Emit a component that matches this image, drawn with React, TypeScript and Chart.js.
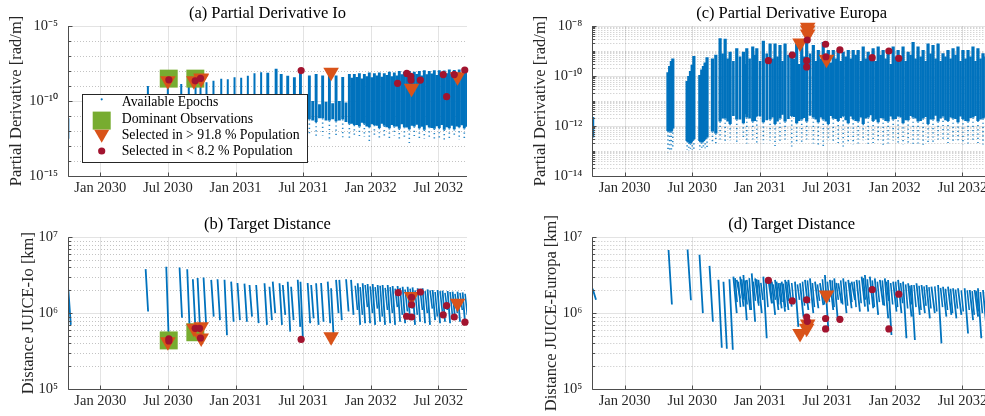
import { useEffect, useRef } from "react";
import { Chart, registerables } from "chart.js";

Chart.register(...registerables);

// ---------- x axis (months since 1 Jan 2030) ----------
const monthTicks = [0, 6, 12, 18, 24, 30];
const monthTickLabels = ["Jan 2030", "Jul 2030", "Jan 2031", "Jul 2031", "Jan 2032", "Jul 2032"];
const X_MIN = -2.87;
const X_MAX = 32.54;

// ---------- y tick values ----------
const ioPdTicks = [1e-15, 1e-10, 1e-5];
const euPdTicks = [1e-14, 1e-12, 1e-10, 1e-8];
const distTicks = [1e5, 1e6, 1e7];

// ---------- (a) Io partial derivative: available epochs ----------
const ioSpikeMonth = [-2.84, 4.22, 5.99, 7.18, 7.85, 8.45, 8.89, 9.42, 10.04, 10.73, 11.31, 11.91, 12.5, 13.09, 13.68, 14.27, 14.86, 15.6, 16.05, 16.63, 17.22, 17.76, 18.55, 19.15, 19.73, 20.33, 20.92, 21.51, 22.1, 22.54, 22.99, 23.43, 23.87, 24.32, 24.76, 25.2, 25.65, 26.09, 26.53, 26.98, 27.42, 27.86, 28.31, 28.75, 29.19, 29.64, 30.08, 30.52, 30.97, 31.41, 31.85, 32.3];
const ioSpikeTop = [7e-12, 1.0e-9, 2.5e-9, 1.35e-9, 1.6e-9, 1.8e-9, 2.0e-9, 1.75e-9, 2.2e-9, 3.0e-9, 2.8e-9, 3.8e-9, 3.5e-9, 4.9e-9, 7.0e-9, 8.1e-9, 7.6e-9, 1.4e-8, 6.3e-9, 4.9e-9, 3.8e-9, 1.0e-8, 5.0e-9, 6.3e-9, 5.0e-9, 7.0e-9, 5.0e-9, 4.0e-9, 6.3e-9, 6.3e-9, 7.0e-9, 6.3e-9, 7.9e-9, 7.0e-9, 7.9e-9, 7.0e-9, 8.9e-9, 7.9e-9, 1.0e-8, 8.9e-9, 1.0e-8, 8.9e-9, 1.0e-8, 1.12e-8, 1.0e-8, 1.12e-8, 1.12e-8, 1.07e-8, 1.26e-8, 1.17e-8, 1.26e-8, 1.26e-8];
const ioSpikeLow = [3e-13, 4e-12, 4e-12, 4e-12, 4e-12, 4e-12, 4e-12, 4e-12, 4e-12, 4e-12, 4e-12, 4e-12, 4e-12, 4e-12, 4e-12, 4e-12, 4e-12, 4e-12, 4e-12, 4e-12, 4e-12, 5e-12, 6e-12, 4e-12, 7e-12, 5e-12, 4.5e-12, 6e-12, 3e-12, 2.5e-12, 2e-12, 3e-12, 1.8e-12, 2.5e-12, 1.6e-12, 2.2e-12, 1.5e-12, 2e-12, 1.4e-12, 1.8e-12, 1.3e-12, 2e-12, 1.5e-12, 1.2e-12, 1.8e-12, 1.4e-12, 1.6e-12, 1.2e-12, 1.5e-12, 1.3e-12, 1.8e-12, 1.5e-12];
const ioSpikeTail = [3e-13, 5e-13, 5e-13, 5e-13, 5e-13, 5e-13, 5e-13, 5e-13, 5e-13, 5e-13, 5e-13, 5e-13, 5e-13, 5e-13, 5e-13, 5e-13, 5e-13, 5e-13, 5e-13, 5e-13, 5e-13, 4e-13, 6e-13, 3e-13, 5e-13, 2e-13, 4e-13, 3e-13, 2.5e-13, 5e-13, 3e-13, 4e-13, 2e-13, 3.5e-13, 2.5e-13, 4e-13, 3e-13, 5e-13, 2e-13, 3e-13, 1.6e-13, 4e-13, 2.5e-13, 3e-13, 4e-13, 2e-13, 3.5e-13, 2.5e-13, 3e-13, 4e-13, 2.5e-13, 3e-13];
// (a) denser core between the main spikes
const ioDenseMonth = [18.25, 18.85, 19.45, 20.03, 20.62, 21.21, 21.8, 22.32, 22.77, 23.21, 23.65, 24.1, 24.54, 24.98, 25.42, 25.87, 26.31, 26.75, 27.2, 27.64, 28.08, 28.53, 28.97, 29.41, 29.86, 30.3, 30.74, 31.19, 31.63, 32.07, 32.5];
const ioDenseTop = [8e-11, 1e-10, 6e-11, 9e-11, 7e-11, 1e-10, 8e-11, 3.5e-9, 4.0e-9, 3.2e-9, 4.5e-9, 3.8e-9, 5.0e-9, 4.2e-9, 5.5e-9, 4.5e-9, 5.0e-9, 6.0e-9, 4.8e-9, 5.5e-9, 6.3e-9, 5.0e-9, 6.0e-9, 6.8e-9, 5.5e-9, 6.5e-9, 7.0e-9, 6.0e-9, 7.2e-9, 6.5e-9, 7.5e-9];
const ioDenseLow = [6e-12, 5e-12, 7e-12, 5e-12, 6e-12, 5e-12, 4e-12, 3e-12, 2.5e-12, 3.5e-12, 2e-12, 2.8e-12, 2.2e-12, 3e-12, 1.8e-12, 2.5e-12, 2e-12, 2.8e-12, 1.7e-12, 2.2e-12, 2.6e-12, 1.9e-12, 2.4e-12, 1.6e-12, 2.1e-12, 2.5e-12, 1.8e-12, 2.2e-12, 2e-12, 2.4e-12, 1.9e-12];

// (a) selections
const ioDomMonth = [6.07, 8.43];
const ioDomPd = [3.1e-9, 3.1e-9];
const ioHighPopMonth = [5.99, 8.3, 8.95, 8.95, 20.48, 27.62, 31.7];
const ioHighPopPd = [2.2e-9, 2.2e-9, 3.4e-9, 3.0e-9, 8.1e-9, 7.2e-10, 4.2e-9];
const ioLowPopMonth = [6.08, 8.42, 8.89, 17.82, 26.38, 27.2, 27.55, 27.57, 28.4, 30.43, 30.73, 31.41, 32.34];
const ioLowPopPd = [2.6e-9, 2.2e-9, 3.2e-9, 1.07e-8, 1.5e-9, 6.9e-9, 4.4e-9, 2.5e-9, 2.5e-9, 5.8e-9, 1.95e-10, 5.8e-9, 1.17e-8];

// ---------- (b) JUICE-Io distance [km] ----------
const ioDistMonth = [-2.84, 4.02, 5.85, 7.03, 7.71, 8.21, 8.63, 9.16, 9.84, 10.4, 11.02, 11.61, 12.17, 12.79, 13.24, 13.83, 14.57, 15.01, 15.3, 15.9, 16.19, 16.63, 16.93, 17.52, 17.76, 18.4, 18.71, 19.15, 19.59, 20.18, 20.48, 20.92, 21.21, 21.81, 22.25, 22.84, 23.28, 23.72, 24.17, 24.61, 25.05, 25.5, 25.94, 26.38, 26.83, 27.27, 27.71, 28.16, 28.6, 29.04, 29.49, 29.93, 30.37, 30.82, 31.26, 31.7, 32.15];
const ioDistHigh = [2.05e6, 3.8e6, 4.1e6, 4.0e6, 3.8e6, 2.8e6, 2.9e6, 2.95e6, 2.75e6, 2.8e6, 2.75e6, 2.6e6, 2.5e6, 2.45e6, 2.35e6, 2.35e6, 2.48e6, 2.23e6, 2.6e6, 2.48e6, 2.35e6, 2.6e6, 2.23e6, 2.75e6, 2.6e6, 2.5e6, 2.35e6, 2.48e6, 2.5e6, 2.6e6, 2.13e6, 2.75e6, 2.75e6, 2.8e6, 2.75e6, 2.48e6, 2.48e6, 2.42e6, 2.42e6, 2.35e6, 2.35e6, 2.35e6, 2.28e6, 2.28e6, 2.23e6, 2.23e6, 2.19e6, 2.13e6, 2.13e6, 2.06e6, 2.02e6, 2.02e6, 1.98e6, 1.96e6, 1.92e6, 1.92e6, 1.88e6];
const ioDistLow = [7.0e5, 1.05e6, 4.5e5, 8.7e5, 6.0e5, 6.6e5, 6.0e5, 7.4e5, 9.0e5, 8.1e5, 5.1e5, 7.7e5, 8.1e5, 7.7e5, 9.0e5, 7.4e5, 7.0e5, 8.1e5, 1.0e6, 7.0e5, 9.5e5, 5.7e5, 8.1e5, 6.6e5, 4.4e5, 7.35e5, 8.55e5, 7.0e5, 7.7e5, 7.35e5, 4.9e5, 1.0e6, 8.1e5, 1.05e6, 9.5e5, 7.0e5, 7.35e5, 7.35e5, 7.0e5, 7.7e5, 7.0e5, 7.35e5, 7.0e5, 7.7e5, 7.35e5, 8.1e5, 7.0e5, 7.7e5, 7.35e5, 7.0e5, 8.1e5, 7.35e5, 7.7e5, 7.35e5, 8.55e5, 7.7e5, 7.35e5];
// (b) shorter passes in the dense 2032 band
const ioDistDenseMonth = [22.62, 23.06, 23.5, 23.95, 24.39, 24.83, 25.28, 25.72, 26.16, 26.6, 27.05, 27.49, 27.93, 28.38, 28.82, 29.26, 29.71, 30.15, 30.59, 31.04, 31.48, 31.92, 32.37];
const ioDistDenseHigh = [2.3e6, 2.2e6, 2.35e6, 2.25e6, 2.2e6, 2.3e6, 2.15e6, 2.2e6, 2.1e6, 2.15e6, 2.05e6, 2.1e6, 2.0e6, 2.05e6, 1.95e6, 2.0e6, 1.9e6, 1.95e6, 1.85e6, 1.9e6, 1.8e6, 1.85e6, 1.8e6];
const ioDistDenseLow = [1.1e6, 9.5e5, 1.2e6, 1.0e6, 1.15e6, 9.0e5, 1.1e6, 1.0e6, 1.2e6, 9.5e5, 1.05e6, 1.15e6, 9.5e5, 1.1e6, 1.0e6, 1.15e6, 9.0e5, 1.05e6, 1.1e6, 9.5e5, 1.0e6, 1.1e6, 9.5e5];

const ioDomDist = [4.37e5, 5.6e5];
const ioHighPopDist = [4.2e5, 6.3e5, 6.6e5, 4.7e5, 4.9e5, 1.66e6, 1.35e6];
const ioLowPopDistMonth = [6.08, 6.08, 8.42, 8.8, 8.89, 17.82, 26.44, 27.18, 27.62, 27.62, 27.62, 28.4, 30.43, 30.73, 31.41, 32.36];
const ioLowPopDist = [4.6e5, 4.3e5, 6.3e5, 6.3e5, 4.7e5, 4.5e5, 1.86e6, 9.1e5, 8.9e5, 1.62e6, 1.29e6, 1.9e6, 9.5e5, 1.26e6, 8.9e5, 7.6e5];

// ---------- (c) Europa partial derivative ----------
const euSpikeMonth = [-2.84, 3.85, 4.0, 4.15, 4.28, 5.55, 5.7, 5.85, 6.0, 6.15, 6.68, 6.85, 7.0, 7.15, 7.32, 7.8, 8.1, 8.48, 8.93, 9.37, 9.96, 10.55, 10.85, 11.38, 11.74, 12.32, 12.92, 13.36, 13.8, 14.25, 14.84, 15.28, 15.73, 16.17, 16.76, 17.2, 17.64, 18.09, 18.53, 18.97, 19.41, 19.86, 20.3, 20.74, 21.19, 21.63, 22.07, 22.52, 22.96, 23.4, 23.85, 24.29, 24.73, 25.18, 25.62, 26.06, 26.51, 26.95, 27.39, 27.84, 28.28, 28.72, 29.17, 29.61, 30.05, 30.5, 30.94, 31.38, 31.83, 32.3];
const euSpikeTop = [2.3e-12, 1.4e-10, 2.5e-10, 4.0e-10, 5.0e-10, 6.3e-11, 1.0e-10, 1.6e-10, 2.8e-10, 6.3e-10, 1.1e-10, 1.8e-10, 2.5e-10, 3.5e-10, 5.6e-10, 5.0e-10, 7.0e-10, 3.2e-9, 3.1e-9, 9.3e-10, 1.3e-9, 9.3e-10, 1.3e-9, 1.5e-9, 1.3e-9, 2.6e-9, 2.0e-9, 2.0e-9, 1.75e-9, 2.0e-9, 9.3e-10, 2.0e-9, 1.75e-9, 2.8e-9, 1.75e-9, 1.1e-9, 2.3e-9, 1.1e-9, 1.1e-9, 1.1e-9, 9.3e-10, 1.1e-9, 1.1e-9, 1.1e-9, 1.5e-9, 9.3e-10, 1.3e-9, 1.5e-9, 1.1e-9, 1.1e-9, 1.5e-9, 1.1e-9, 1.5e-9, 9.3e-10, 2.3e-9, 1.5e-9, 1.1e-9, 2.0e-9, 1.75e-9, 2.0e-9, 8.1e-10, 1.1e-9, 1.3e-9, 1.5e-9, 1.1e-9, 1.1e-9, 1.5e-9, 1.3e-9, 8.1e-10, 1.25e-9];
const euSpikeLow = [3.5e-13, 6.3e-13, 6e-13, 6e-13, 8e-13, 2.5e-13, 2.2e-13, 2e-13, 2.5e-13, 3e-13, 2.5e-13, 2.2e-13, 2.5e-13, 3e-13, 3.5e-13, 6e-13, 5e-13, 1.5e-12, 2e-12, 1.2e-12, 1.8e-12, 1.3e-12, 2.2e-12, 1.5e-12, 2.5e-12, 1.4e-12, 1.8e-12, 1.2e-12, 2e-12, 1.5e-12, 2.5e-12, 1.3e-12, 1.8e-12, 1.5e-12, 2.2e-12, 1.4e-12, 1.8e-12, 1.2e-12, 2e-12, 1.6e-12, 2.5e-12, 1.3e-12, 1.9e-12, 1.5e-12, 1.2e-12, 2.2e-12, 1.6e-12, 1.4e-12, 2e-12, 1.5e-12, 1.8e-12, 2.5e-12, 1.3e-12, 1.7e-12, 2.2e-12, 1.5e-12, 2e-12, 1.2e-12, 1.8e-12, 1.5e-12, 2.4e-12, 1.6e-12, 2e-12, 1.4e-12, 1.9e-12, 1.5e-12, 2.2e-12, 1.6e-12, 2e-12, 1.7e-12];
const euSpikeTail = [3.5e-13, 9e-14, 1e-13, 1e-13, 1.2e-13, 1.1e-13, 1e-13, 1e-13, 1.1e-13, 1.2e-13, 1.1e-13, 1.1e-13, 1.2e-13, 1.3e-13, 1.4e-13, 2e-13, 2e-13, 2.5e-13, 2e-13, 2.5e-13, 2e-13, 3e-13, 2e-13, 2.5e-13, 1.8e-13, 2e-13, 2.5e-13, 1.6e-13, 2e-13, 2.5e-13, 1.5e-13, 2e-13, 1.8e-13, 2.2e-13, 2e-13, 1.6e-13, 1.5e-13, 2.5e-13, 2e-13, 1.8e-13, 1.5e-13, 2.2e-13, 1.8e-13, 2e-13, 2.5e-13, 1.5e-13, 2e-13, 2.2e-13, 1.7e-13, 2e-13, 2.5e-13, 2e-13, 1.8e-13, 2.2e-13, 1.6e-13, 2e-13, 1.5e-13, 2e-13, 1.8e-13, 2.2e-13, 2.5e-13, 1.7e-13, 2e-13, 2.2e-13, 1.8e-13, 2e-13, 2.5e-13, 2e-13, 1.8e-13, 2.2e-13];
// (c) denser core between the main spikes
const euDenseMonth = [8.7, 9.15, 9.66, 10.25, 10.7, 11.1, 11.56, 12.03, 12.62, 13.14, 13.58, 14.02, 14.55, 15.06, 15.5, 15.95, 16.47, 16.98, 17.42, 17.87, 18.31, 18.75, 19.19, 19.64, 20.08, 20.52, 20.97, 21.41, 21.85, 22.3, 22.74, 23.18, 23.63, 24.07, 24.51, 24.96, 25.4, 25.84, 26.29, 26.73, 27.17, 27.62, 28.06, 28.5, 28.95, 29.39, 29.83, 30.28, 30.72, 31.16, 31.61, 32.05, 32.5];
const euDenseTop = [8e-10, 5e-10, 4e-10, 6e-10, 3e-10, 5e-10, 7e-10, 4e-10, 8e-10, 5e-10, 6e-10, 4e-10, 7e-10, 5e-10, 3e-10, 6e-10, 8e-10, 4e-10, 5e-10, 6e-10, 3.5e-10, 5e-10, 4e-10, 6e-10, 5e-10, 7e-10, 4e-10, 5e-10, 6e-10, 4e-10, 7e-10, 5e-10, 3e-10, 6e-10, 5e-10, 4e-10, 7e-10, 5e-10, 6e-10, 4e-10, 8e-10, 5e-10, 4e-10, 6e-10, 5e-10, 7e-10, 4e-10, 5e-10, 6e-10, 4e-10, 5e-10, 6e-10, 5e-10];
const euDenseLow = [2e-12, 1.5e-12, 2.5e-12, 1.8e-12, 3e-12, 2e-12, 1.6e-12, 2.4e-12, 1.7e-12, 2.2e-12, 1.5e-12, 2.8e-12, 1.9e-12, 2.3e-12, 1.6e-12, 2.1e-12, 2.6e-12, 1.8e-12, 2.2e-12, 1.5e-12, 2.5e-12, 1.9e-12, 2.1e-12, 1.7e-12, 2.4e-12, 1.6e-12, 2.2e-12, 2e-12, 2.7e-12, 1.8e-12, 2.1e-12, 1.6e-12, 2.4e-12, 1.9e-12, 2.2e-12, 1.7e-12, 2.5e-12, 2e-12, 1.6e-12, 2.3e-12, 1.8e-12, 2.6e-12, 2e-12, 1.7e-12, 2.2e-12, 1.9e-12, 2.4e-12, 1.6e-12, 2.1e-12, 2.5e-12, 1.8e-12, 2.2e-12, 2e-12];

const euHighPopMonth = [15.58, 16.26, 16.26, 16.26, 17.93];
const euHighPopPd = [2.1e-9, 9.0e-9, 6.9e-9, 4.8e-9, 4.7e-10];
const euLowPopMonth = [12.77, 14.89, 16.22, 16.17, 16.17, 17.85, 17.88, 19.12, 21.99, 23.47, 24.35];
const euLowPopPd = [4.1e-10, 6.9e-10, 2.75e-9, 4.1e-10, 2.3e-10, 1.86e-9, 5.9e-10, 1.1e-9, 5.4e-10, 1.0e-9, 5.1e-10];

// ---------- (d) JUICE-Europa distance [km] ----------
const euDistMonth = [-2.84, 3.9, 5.59, 6.65, 7.54, 8.33, 8.78, 9.31, 9.66, 9.96, 10.26, 10.55, 10.85, 11.29, 11.59, 11.88, 12.32, 12.77, 13.07, 13.36, 13.65, 13.95, 14.25, 14.54, 15.13, 15.58, 16.02, 16.46, 16.91, 17.35, 17.79, 18.23, 18.62, 18.97, 19.41, 19.86, 20.16, 20.6, 21.05, 21.34, 21.78, 22.22, 22.67, 23.11, 23.4, 23.85, 24.29, 24.73, 25.18, 25.48, 25.92, 26.37, 26.81, 27.25, 27.84, 28.28, 28.72, 29.17, 29.61, 30.2, 30.65, 31.09, 31.38, 31.83, 32.3];
const euDistHigh = [2.1e6, 6.8e6, 6.9e6, 5.9e6, 4.2e6, 2.75e6, 2.6e6, 2.8e6, 3.03e6, 2.74e6, 3.03e6, 3.18e6, 2.74e6, 3.35e6, 2.88e6, 2.74e6, 3.03e6, 2.74e6, 2.6e6, 2.74e6, 2.48e6, 2.6e6, 2.74e6, 2.74e6, 2.6e6, 2.48e6, 2.74e6, 2.88e6, 2.6e6, 2.48e6, 3.18e6, 2.74e6, 2.88e6, 2.48e6, 2.88e6, 2.74e6, 2.6e6, 2.74e6, 3.03e6, 3.18e6, 3.03e6, 2.88e6, 2.74e6, 2.88e6, 2.74e6, 2.6e6, 2.74e6, 2.6e6, 2.48e6, 2.35e6, 2.48e6, 2.35e6, 2.35e6, 2.23e6, 2.35e6, 2.23e6, 2.23e6, 2.13e6, 2.13e6, 2.13e6, 2.02e6, 2.02e6, 2.13e6, 2.02e6, 2.0e6];
const euDistLow = [1.5e6, 1.3e6, 1.48e6, 1.0e6, 7.7e5, 3.5e5, 3.4e5, 3.3e5, 1.0e6, 1.57e6, 1.22e6, 8.1e5, 1.1e6, 7.7e5, 1.35e6, 1.0e6, 4.66e5, 1.35e6, 9.5e5, 1.1e6, 1.16e6, 1.05e6, 1.1e6, 1.22e6, 6.6e5, 9.0e5, 1.1e6, 1.0e6, 1.16e6, 1.28e6, 6.0e5, 1.1e6, 8.55e5, 1.35e6, 1.0e6, 1.16e6, 1.49e6, 1.05e6, 1.22e6, 1.05e6, 1.16e6, 9.5e5, 1.28e6, 8.55e5, 5.15e5, 1.05e6, 1.0e6, 4.66e5, 9.0e5, 4.43e5, 9.5e5, 1.0e6, 8.55e5, 1.0e6, 4.0e5, 9.0e5, 9.5e5, 8.55e5, 9.5e5, 5.4e5, 8.1e5, 9.0e5, 4.66e5, 6.6e5, 8.0e5];
// (d) shorter passes filling the dense band
const euDistDenseMonth = [9.81, 10.11, 10.4, 10.7, 11.07, 11.44, 11.73, 12.1, 12.55, 12.92, 13.21, 13.5, 13.8, 14.1, 14.4, 14.84, 15.35, 15.8, 16.24, 16.68, 17.13, 17.57, 18.01, 18.43, 18.8, 19.19, 19.63, 20.01, 20.38, 20.83, 21.2, 21.56, 22.0, 22.45, 22.89, 23.26, 23.63, 24.07, 24.51, 24.96, 25.33, 25.7, 26.15, 26.59, 27.03, 27.55, 28.06, 28.5, 28.95, 29.39, 29.9, 30.43, 30.87, 31.24, 31.6, 32.06, 32.45];
const euDistDenseHigh = [2.9e6, 2.6e6, 2.8e6, 2.7e6, 2.9e6, 2.6e6, 2.8e6, 2.5e6, 2.7e6, 2.55e6, 2.4e6, 2.6e6, 2.5e6, 2.45e6, 2.6e6, 2.5e6, 2.4e6, 2.6e6, 2.7e6, 2.5e6, 2.4e6, 2.8e6, 2.6e6, 2.7e6, 2.5e6, 2.7e6, 2.6e6, 2.5e6, 2.6e6, 2.7e6, 2.9e6, 2.8e6, 2.7e6, 2.6e6, 2.7e6, 2.6e6, 2.5e6, 2.6e6, 2.5e6, 2.4e6, 2.3e6, 2.35e6, 2.3e6, 2.25e6, 2.2e6, 2.25e6, 2.15e6, 2.1e6, 2.1e6, 2.05e6, 2.0e6, 2.0e6, 1.95e6, 1.95e6, 1.9e6, 1.9e6, 1.9e6];
const euDistDenseLow = [1.4e6, 1.2e6, 1.5e6, 1.3e6, 1.1e6, 1.45e6, 1.25e6, 1.5e6, 1.2e6, 1.35e6, 1.5e6, 1.3e6, 1.4e6, 1.2e6, 1.45e6, 1.3e6, 1.5e6, 1.25e6, 1.35e6, 1.2e6, 1.45e6, 1.3e6, 1.4e6, 1.2e6, 1.5e6, 1.3e6, 1.25e6, 1.4e6, 1.2e6, 1.35e6, 1.5e6, 1.3e6, 1.2e6, 1.4e6, 1.25e6, 1.45e6, 1.3e6, 1.2e6, 1.35e6, 1.15e6, 1.3e6, 1.2e6, 1.1e6, 1.25e6, 1.15e6, 1.05e6, 1.2e6, 1.1e6, 1.0e6, 1.15e6, 1.05e6, 1.1e6, 9.5e5, 1.05e6, 1.0e6, 9.5e5, 1.0e6];

const euHighPopDistMonth = [15.58, 16.17, 16.26, 17.93];
const euHighPopDist = [5.4e5, 6.3e5, 7.2e5, 1.74e6];
const euLowPopDistMonth = [12.77, 14.89, 16.17, 16.17, 16.22, 17.85, 17.85, 19.12, 21.99, 23.47, 24.35];
const euLowPopDist = [2.7e6, 1.45e6, 1.5e6, 8.9e5, 7.8e5, 8.5e5, 6.2e5, 8.3e5, 2.04e6, 6.2e5, 1.78e6];

// ---------- styling ----------
const SERIF = "'Liberation Serif', 'Times New Roman', Times, serif";
const BLUE = "#0072BD";
const ORANGE = "#D95319";
const RED = "#A2142F";
const GREEN = "#77AC30";
const TEXT = "#262626";

const SUP: Record<string, string> = { "-": "\u207B", "0": "\u2070", "1": "\u00B9", "2": "\u00B2", "3": "\u00B3", "4": "\u2074", "5": "\u2075", "6": "\u2076", "7": "\u2077", "8": "\u2078", "9": "\u2079" };
function powLabel(v: number) {
  const e = Math.round(Math.log10(v));
  return "10" + String(e).split("").map((c) => SUP[c] || c).join("");
}

function segs(t: number[], a: number[], b: number[], slant: number) {
  const out: { x: number; y: number | null }[] = [];
  const n = Math.min(t.length, a.length, b.length);
  for (let i = 0; i < n; i++) {
    out.push({ x: t[i], y: a[i] }, { x: t[i] + slant, y: b[i] }, { x: t[i] + slant, y: null });
  }
  return out;
}
function pts(t: number[], v: number[]) {
  const n = Math.min(t.length, v.length);
  const out: { x: number; y: number }[] = [];
  for (let i = 0; i < n; i++) out.push({ x: t[i], y: v[i] });
  return out;
}
function minorValues(min: number, max: number, majors: number[], all: boolean) {
  const out: number[] = [];
  const e0 = Math.floor(Math.log10(min));
  const e1 = Math.ceil(Math.log10(max));
  for (let e = e0; e <= e1; e++) {
    const ks = all ? [1, 2, 3, 4, 5, 6, 7, 8, 9] : [1];
    for (const k of ks) {
      const v = k * Math.pow(10, e);
      if (v < min * 0.999 || v > max * 1.001) continue;
      if (majors.some((m) => Math.abs(m - v) / m < 1e-6)) continue;
      out.push(v);
    }
  }
  return out;
}

function drawLegend(ctx: CanvasRenderingContext2D, a: { left: number; top: number }) {
  const x0 = a.left + 14.3;
  const y0 = a.top + 68.3;
  const w = 225;
  const h = 68;
  ctx.save();
  ctx.fillStyle = "#ffffff";
  ctx.fillRect(x0, y0, w, h);
  ctx.strokeStyle = TEXT;
  ctx.lineWidth = 1;
  ctx.strokeRect(Math.round(x0) + 0.5, Math.round(y0) + 0.5, w, h);
  const mx = x0 + 19.4;
  const tx = x0 + 39.4;
  ctx.fillStyle = BLUE;
  ctx.beginPath();
  ctx.arc(mx, y0 + 5, 1.1, 0, Math.PI * 2);
  ctx.fill();
  ctx.fillStyle = GREEN;
  ctx.fillRect(mx - 9, y0 + 17.3, 18, 18);
  ctx.fillStyle = ORANGE;
  const ty = y0 + 42;
  ctx.beginPath();
  ctx.moveTo(mx - 7.5, ty - 6.5);
  ctx.lineTo(mx + 7.5, ty - 6.5);
  ctx.lineTo(mx, ty + 6.5);
  ctx.closePath();
  ctx.fill();
  ctx.fillStyle = RED;
  ctx.beginPath();
  ctx.arc(mx, y0 + 56.7, 3.6, 0, Math.PI * 2);
  ctx.fill();
  ctx.fillStyle = "#000";
  ctx.font = "13.8px " + SERIF;
  ctx.textBaseline = "middle";
  ctx.textAlign = "left";
  ctx.fillText("Available Epochs", tx, y0 + 8.4);
  ctx.fillText("Dominant Observations", tx, y0 + 24.7);
  ctx.fillText("Selected in > 91.8 % Population", tx, y0 + 41.4);
  ctx.fillText("Selected in < 8.2 % Population", tx, y0 + 56.7);
  ctx.restore();
}

const axesPlugin = {
  id: "matlabAxes",
  beforeDatasetsDraw(chart: any, _args: any, opts: any) {
    const { ctx, chartArea: a } = chart;
    const x = chart.scales.x;
    const y = chart.scales.y;
    ctx.save();
    ctx.lineWidth = 1;
    ctx.strokeStyle = "rgba(38,38,38,0.28)";
    ctx.setLineDash([1, 2]);
    for (const v of opts.minor) {
      const py = Math.round(y.getPixelForValue(v)) + 0.5;
      ctx.beginPath();
      ctx.moveTo(a.left, py);
      ctx.lineTo(a.right, py);
      ctx.stroke();
    }
    ctx.setLineDash([]);
    ctx.strokeStyle = "rgba(38,38,38,0.13)";
    for (const v of opts.major) {
      const py = Math.round(y.getPixelForValue(v)) + 0.5;
      ctx.beginPath();
      ctx.moveTo(a.left, py);
      ctx.lineTo(a.right, py);
      ctx.stroke();
    }
    for (const v of monthTicks) {
      const px = Math.round(x.getPixelForValue(v)) + 0.5;
      ctx.beginPath();
      ctx.moveTo(px, a.top);
      ctx.lineTo(px, a.bottom);
      ctx.stroke();
    }
    ctx.restore();
  },
  afterDatasetsDraw(chart: any, _args: any, opts: any) {
    const { ctx, chartArea: a } = chart;
    const x = chart.scales.x;
    const y = chart.scales.y;
    ctx.save();
    ctx.strokeStyle = "#4d4d4d";
    ctx.lineWidth = 1;
    const lx = Math.round(a.left) + 0.5;
    const by = Math.round(a.bottom) + 0.5;
    ctx.beginPath();
    ctx.moveTo(lx, a.top);
    ctx.lineTo(lx, by);
    ctx.lineTo(a.right, by);
    ctx.stroke();
    for (const v of monthTicks) {
      const px = Math.round(x.getPixelForValue(v)) + 0.5;
      ctx.beginPath();
      ctx.moveTo(px, by);
      ctx.lineTo(px, by - 4);
      ctx.stroke();
    }
    for (const v of opts.major) {
      const py = Math.round(y.getPixelForValue(v)) + 0.5;
      ctx.beginPath();
      ctx.moveTo(lx, py);
      ctx.lineTo(lx + 4, py);
      ctx.stroke();
    }
    for (const v of opts.minor) {
      const py = Math.round(y.getPixelForValue(v)) + 0.5;
      ctx.beginPath();
      ctx.moveTo(lx, py);
      ctx.lineTo(lx + 2.5, py);
      ctx.stroke();
    }
    ctx.restore();
    if (opts.legend) drawLegend(ctx, a);
  },
};

type PanelSpec = {
  left: number;
  top: number;
  w: number;
  h: number;
  padRight: number;
  yWidth: number;
  xHeight: number;
  title: string;
  titlePad: { top: number; bottom: number };
  yTitle: string;
  yTitlePad: number;
  yMin: number;
  yMax: number;
  yMajor: number[];
  allMinor: boolean;
  legend: boolean;
  datasets: any[];
};

// thin spikes before `thinUntil` (months), full width afterwards
function spikeSet(t: number[], top: number[], low: number[], width: number, order: number, thinUntil = -100, thinWidth = width) {
  return {
    data: segs(t, top, low, 0),
    borderColor: BLUE,
    borderWidth: width,
    borderCapStyle: "butt",
    pointRadius: 0,
    spanGaps: false,
    segment: {
      borderWidth: (c: any) => (c.p0.parsed.x < thinUntil ? thinWidth : width),
    },
    order,
  };
}
function tailSet(t: number[], low: number[], tail: number[]) {
  return {
    data: segs(t, low, tail, 0),
    borderColor: "rgba(0,114,189,0.85)",
    borderWidth: 1.6,
    borderDash: [1.2, 3],
    borderCapStyle: "butt",
    pointRadius: 0,
    spanGaps: false,
    order: 5,
  };
}
function distSet(t: number[], hi: number[], lo: number[], slant: number, width: number) {
  return {
    data: segs(t, hi, lo, slant),
    borderColor: BLUE,
    borderWidth: width,
    borderJoinStyle: "round",
    pointRadius: 0,
    spanGaps: false,
    order: 3,
  };
}
function markerSet(data: any[], style: string, radius: number, color: string, order: number) {
  return {
    data,
    showLine: false,
    pointStyle: style,
    pointRadius: radius,
    pointHoverRadius: radius,
    pointRotation: style === "triangle" ? 180 : 0,
    pointBackgroundColor: color,
    pointBorderColor: color,
    pointBorderWidth: 0,
    clip: false,
    order,
  };
}

const panels: PanelSpec[] = [
  {
    left: 0, top: 0, w: 480, h: 200, padRight: 13, yWidth: 68, xHeight: 24,
    title: "(a) Partial Derivative Io", titlePad: { top: 4.1, bottom: 2.1 },
    yTitle: "Partial Derivative [rad/m]", yTitlePad: 7.1,
    yMin: 1e-15, yMax: 1e-5, yMajor: ioPdTicks, allMinor: false, legend: true,
    datasets: [
      markerSet(pts(ioLowPopMonth, ioLowPopPd), "circle", 3.6, RED, 0),
      markerSet(pts(ioHighPopMonth, ioHighPopPd), "triangle", 9, ORANGE, 1),
      markerSet(pts(ioDomMonth, ioDomPd), "rect", 12.7, GREEN, 2),
      spikeSet(ioSpikeMonth, ioSpikeTop, ioSpikeLow, 2.9, 3, 14.5, 2),
      spikeSet(ioDenseMonth, ioDenseTop, ioDenseLow, 2.9, 4),
      tailSet(ioSpikeMonth, ioSpikeLow, ioSpikeTail),
    ],
  },
  {
    left: 0, top: 200, w: 480, h: 216, padRight: 13, yWidth: 68, xHeight: 27,
    title: "(b) Target Distance", titlePad: { top: 15.1, bottom: 2.4 },
    yTitle: "Distance JUICE-Io [km]", yTitlePad: 19.1,
    yMin: 1e5, yMax: 1e7, yMajor: distTicks, allMinor: true, legend: false,
    datasets: [
      markerSet(pts(ioLowPopDistMonth, ioLowPopDist), "circle", 3.6, RED, 0),
      markerSet(pts(ioHighPopMonth, ioHighPopDist), "triangle", 9, ORANGE, 1),
      markerSet(pts(ioDomMonth, ioDomDist), "rect", 12.7, GREEN, 2),
      distSet(ioDistMonth, ioDistHigh, ioDistLow, 0.22, 1.8),
      distSet(ioDistDenseMonth, ioDistDenseHigh, ioDistDenseLow, 0.2, 1.6),
    ],
  },
  {
    left: 500, top: 0, w: 500, h: 200, padRight: 8.7, yWidth: 92.3, xHeight: 24,
    title: "(c) Partial Derivative Europa", titlePad: { top: 4.1, bottom: 2.1 },
    yTitle: "Partial Derivative [rad/m]", yTitlePad: 31.1,
    yMin: 1e-14, yMax: 1e-8, yMajor: euPdTicks, allMinor: true, legend: false,
    datasets: [
      markerSet(pts(euLowPopMonth, euLowPopPd), "circle", 3.6, RED, 0),
      markerSet(pts(euHighPopMonth, euHighPopPd), "triangle", 9, ORANGE, 1),
      spikeSet(euSpikeMonth, euSpikeTop, euSpikeLow, 3.2, 3),
      spikeSet(euDenseMonth, euDenseTop, euDenseLow, 2.6, 4),
      tailSet(euSpikeMonth, euSpikeLow, euSpikeTail),
    ],
  },
  {
    left: 500, top: 200, w: 500, h: 216, padRight: 8.7, yWidth: 92.3, xHeight: 27,
    title: "(d) Target Distance", titlePad: { top: 15.1, bottom: 2.4 },
    yTitle: "Distance JUICE-Europa [km]", yTitlePad: 42.1,
    yMin: 1e5, yMax: 1e7, yMajor: distTicks, allMinor: true, legend: false,
    datasets: [
      markerSet(pts(euLowPopDistMonth, euLowPopDist), "circle", 3.6, RED, 0),
      markerSet(pts(euHighPopDistMonth, euHighPopDist), "triangle", 9, ORANGE, 1),
      distSet(euDistMonth, euDistHigh, euDistLow, 0.3, 1.8),
      distSet(euDistDenseMonth, euDistDenseHigh, euDistDenseLow, 0.18, 1.6),
    ],
  },
];

function makeConfig(p: PanelSpec): any {
  return {
    type: "line",
    data: { datasets: p.datasets },
    options: {
      responsive: false,
      animation: false,
      devicePixelRatio: 1,
      events: [],
      layout: { padding: { left: 0, right: p.padRight, top: 0, bottom: 0 } },
      plugins: {
        legend: { display: false },
        tooltip: { enabled: false },
        title: {
          display: true,
          text: p.title,
          color: "#000",
          fullSize: false,
          font: { family: SERIF, size: 16.5, weight: "normal" },
          padding: p.titlePad,
        },
        matlabAxes: {
          major: p.yMajor,
          minor: minorValues(p.yMin, p.yMax, p.yMajor, p.allMinor),
          legend: p.legend,
        },
      },
      scales: {
        x: {
          type: "linear",
          min: X_MIN,
          max: X_MAX,
          grid: { display: false, drawTicks: false },
          border: { display: false },
          ticks: {
            autoSkip: false,
            maxRotation: 0,
            minRotation: 0,
            padding: 3,
            color: TEXT,
            font: { family: SERIF, size: 14.5 },
            callback: (_v: any, i: number) => monthTickLabels[i] ?? "",
          },
          afterBuildTicks: (s: any) => {
            s.ticks = monthTicks.map((v) => ({ value: v }));
          },
          afterFit: (s: any) => {
            s.height = p.xHeight;
          },
        },
        y: {
          type: "logarithmic",
          min: p.yMin,
          max: p.yMax,
          grid: { display: false, drawTicks: false },
          border: { display: false },
          ticks: {
            padding: 10,
            color: TEXT,
            font: { family: SERIF, size: 14.5 },
            callback: (v: any) => powLabel(Number(v)),
          },
          afterBuildTicks: (s: any) => {
            s.ticks = p.yMajor.map((v) => ({ value: v }));
          },
          afterFit: (s: any) => {
            s.width = p.yWidth;
          },
          title: {
            display: true,
            text: p.yTitle,
            color: TEXT,
            font: { family: SERIF, size: 16.5 },
            padding: { top: p.yTitlePad, bottom: 0 },
          },
        },
      },
    },
    plugins: [axesPlugin],
  };
}

function Panel({ spec }: { spec: PanelSpec }) {
  const ref = useRef<HTMLCanvasElement>(null);
  useEffect(() => {
    if (!ref.current) return;
    const chart = new Chart(ref.current, makeConfig(spec));
    return () => chart.destroy();
  }, [spec]);
  return (
    <canvas
      ref={ref}
      width={spec.w}
      height={spec.h}
      style={{ position: "absolute", left: spec.left, top: spec.top, width: spec.w, height: spec.h }}
    />
  );
}

export default function App() {
  return (
    <div
      style={{
        position: "fixed",
        left: 0,
        top: 0,
        width: 985,
        height: 416,
        overflow: "hidden",
        background: "#ffffff",
      }}
    >
      {panels.map((p, i) => (
        <Panel key={i} spec={p} />
      ))}
    </div>
  );
}
